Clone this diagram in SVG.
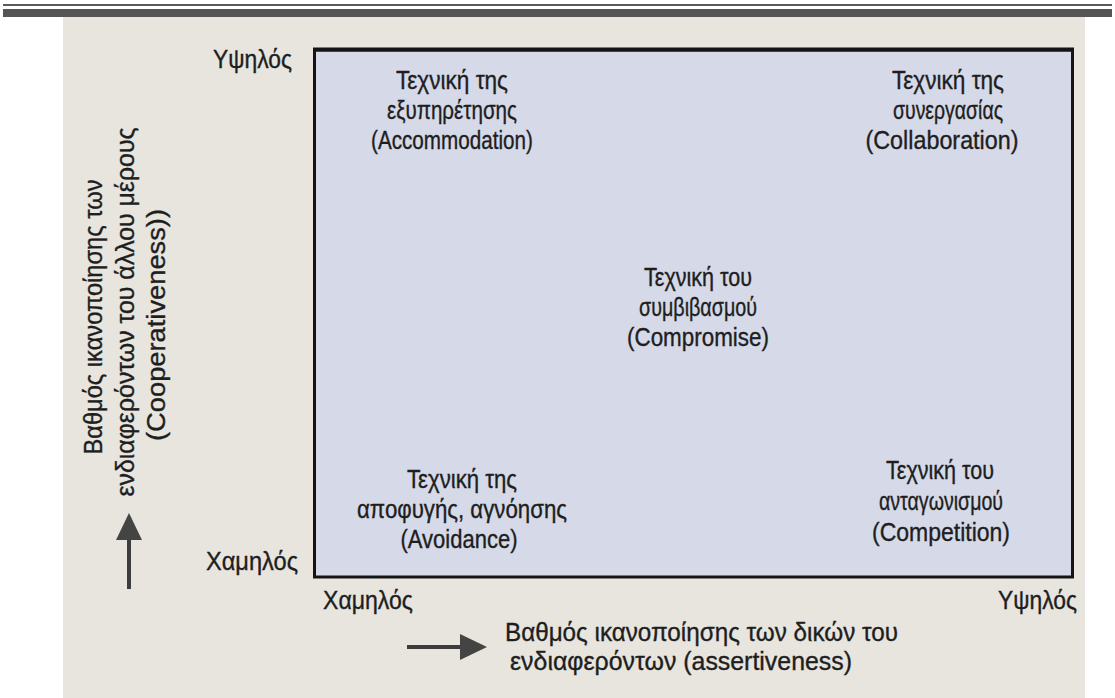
<svg xmlns="http://www.w3.org/2000/svg" width="1115" height="698" viewBox="0 0 1115 698">
  <style>
    .t { font-family: "Liberation Sans Narrow", "Liberation Sans", Arial, sans-serif; font-size: 25px; fill: #1e1e1e; stroke: #1e1e1e; stroke-width: 0.35px; }
    .c { text-anchor: middle; }
    .e { text-anchor: end; }
    .arrow { stroke: #3c3c3c; stroke-width: 4; fill: none; }
  </style>
  <defs>
    <marker id="head" markerUnits="userSpaceOnUse" markerWidth="27" markerHeight="26" viewBox="0 0 27 26" refX="1" refY="13" orient="auto">
      <path d="M0,0 L27,13 L0,26 Z" fill="#444"/>
    </marker>
  </defs>

  <!-- header rule -->
  <rect x="3" y="4" width="1109" height="2" fill="#5a5a5a"/>
  <rect x="3" y="9" width="1109" height="8" fill="#555"/>

  <!-- scanned page -->
  <rect x="63" y="17" width="1022" height="681" fill="#e7e5de"/>

  <!-- frame -->
  <g id="frame">
    <rect x="314.5" y="50" width="758" height="527" fill="#d5d9e8" stroke="#141414" stroke-width="3"/>
    <line x1="313" y1="49.5" x2="1074" y2="49.5" stroke="#141414" stroke-width="4"/>
  </g>

  <!-- axis labels -->
  <g id="y-high"><text class="t e" x="292" y="68" textLength="79" lengthAdjust="spacingAndGlyphs">Υψηλός</text></g>
  <g id="y-low"><text class="t e" x="298" y="570" textLength="92" lengthAdjust="spacingAndGlyphs">Χαμηλός</text></g>
  <g id="x-low"><text class="t" x="323" y="609" textLength="90" lengthAdjust="spacingAndGlyphs">Χαμηλός</text></g>
  <g id="x-high"><text class="t e" x="1077" y="609" textLength="79" lengthAdjust="spacingAndGlyphs">Υψηλός</text></g>

  <g id="y-title">
    <text class="t c" transform="translate(102,317) rotate(-90)" x="0" y="0" textLength="275" lengthAdjust="spacingAndGlyphs">Βαθμός ικανοποίησης των</text>
    <text class="t c" transform="translate(134,312) rotate(-90)" x="0" y="0" textLength="369" lengthAdjust="spacingAndGlyphs">ενδιαφερόντων του άλλου μέρους</text>
    <text class="t c" transform="translate(165,325) rotate(-90)" x="0" y="0" textLength="232" lengthAdjust="spacingAndGlyphs">(Cooperativeness))</text>
  </g>

  <g id="x-title">
    <text class="t" x="505" y="641" textLength="393" lengthAdjust="spacingAndGlyphs">Βαθμός ικανοποίησης των δικών του</text>
    <text class="t" x="510" y="670" textLength="342" lengthAdjust="spacingAndGlyphs">ενδιαφερόντων (assertiveness)</text>
  </g>

  <!-- quadrant nodes -->
  <g id="accommodation">
    <text class="t c" x="452" y="89" textLength="112" lengthAdjust="spacingAndGlyphs">Τεχνική της</text>
    <text class="t c" x="452" y="119" textLength="130" lengthAdjust="spacingAndGlyphs">εξυπηρέτησης</text>
    <text class="t c" x="452" y="149" textLength="162" lengthAdjust="spacingAndGlyphs">(Accommodation)</text>
  </g>
  <g id="collaboration">
    <text class="t c" x="948" y="89" textLength="112" lengthAdjust="spacingAndGlyphs">Τεχνική της</text>
    <text class="t c" x="948" y="119" textLength="110" lengthAdjust="spacingAndGlyphs">συνεργασίας</text>
    <text class="t c" x="942" y="149" textLength="153" lengthAdjust="spacingAndGlyphs">(Collaboration)</text>
  </g>
  <g id="compromise">
    <text class="t c" x="698" y="286" textLength="108" lengthAdjust="spacingAndGlyphs">Τεχνική του</text>
    <text class="t c" x="698" y="316" textLength="118" lengthAdjust="spacingAndGlyphs">συμβιβασμού</text>
    <text class="t c" x="698" y="346" textLength="142" lengthAdjust="spacingAndGlyphs">(Compromise)</text>
  </g>
  <g id="avoidance">
    <text class="t c" x="462" y="488" textLength="110" lengthAdjust="spacingAndGlyphs">Τεχνική της</text>
    <text class="t c" x="462" y="518" textLength="210" lengthAdjust="spacingAndGlyphs">αποφυγής, αγνόησης</text>
    <text class="t c" x="459" y="548" textLength="117" lengthAdjust="spacingAndGlyphs">(Avoidance)</text>
  </g>
  <g id="competition">
    <text class="t c" x="940" y="479" textLength="108" lengthAdjust="spacingAndGlyphs">Τεχνική του</text>
    <text class="t c" x="941" y="510" textLength="124" lengthAdjust="spacingAndGlyphs">ανταγωνισμού</text>
    <text class="t c" x="941" y="541" textLength="138" lengthAdjust="spacingAndGlyphs">(Competition)</text>
  </g>

  <!-- connectors -->
  <g id="connectors">
    <line class="arrow" x1="129" y1="589" x2="129" y2="539" marker-end="url(#head)"/>
    <line class="arrow" x1="407" y1="647" x2="461" y2="647" marker-end="url(#head)"/>
  </g>
</svg>
